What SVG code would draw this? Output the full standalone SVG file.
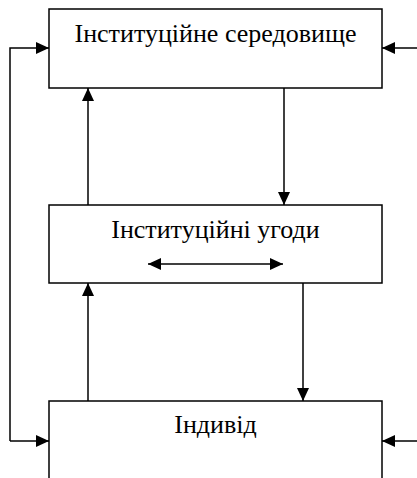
<svg xmlns="http://www.w3.org/2000/svg" width="417" height="478" viewBox="0 0 417 478">
<style>
.box{fill:#fff;stroke:#000;stroke-width:1.5}
.lbl{font-family:"Liberation Serif","Times New Roman",serif;font-size:26px;fill:#000;text-anchor:middle}
.ln{fill:none;stroke:#000;stroke-width:1.5}
</style>
<defs>
<marker id="ah" viewBox="0 0 13 12" refX="13" refY="6" markerWidth="13" markerHeight="12" markerUnits="userSpaceOnUse" orient="auto-start-reverse">
<path d="M0,0 L13,6 L0,12 Z" fill="#000"/>
</marker>
</defs>
<rect width="417" height="478" fill="#fff"/>
<g id="node-env">
<rect class="box" x="49" y="9" width="333" height="79"/>
<text class="lbl" x="215.5" y="42">Інституційне середовище</text>
</g>
<g id="node-agreements">
<rect class="box" x="49" y="205" width="333" height="78"/>
<text class="lbl" x="215.5" y="238">Інституційні угоди</text>
</g>
<g id="node-individual">
<rect class="box" x="49" y="401" width="333" height="90"/>
<text class="lbl" x="215.5" y="433">Індивід</text>
</g>
<g id="connectors">
<path class="ln" d="M10,441 L10,48 L49,48" marker-end="url(#ah)"/>
<path class="ln" d="M10,441 L49,441" marker-end="url(#ah)"/>
<path class="ln" d="M417,48 L382,48" marker-end="url(#ah)"/>
<path class="ln" d="M417,441 L382,441" marker-end="url(#ah)"/>
<path class="ln" d="M88,205 L88,88" marker-end="url(#ah)"/>
<path class="ln" d="M284,88 L284,205" marker-end="url(#ah)"/>
<path class="ln" d="M88,401 L88,283" marker-end="url(#ah)"/>
<path class="ln" d="M303,283 L303,401" marker-end="url(#ah)"/>
<path class="ln" d="M148,264 L283,264" marker-start="url(#ah)" marker-end="url(#ah)"/>
</g>
</svg>
